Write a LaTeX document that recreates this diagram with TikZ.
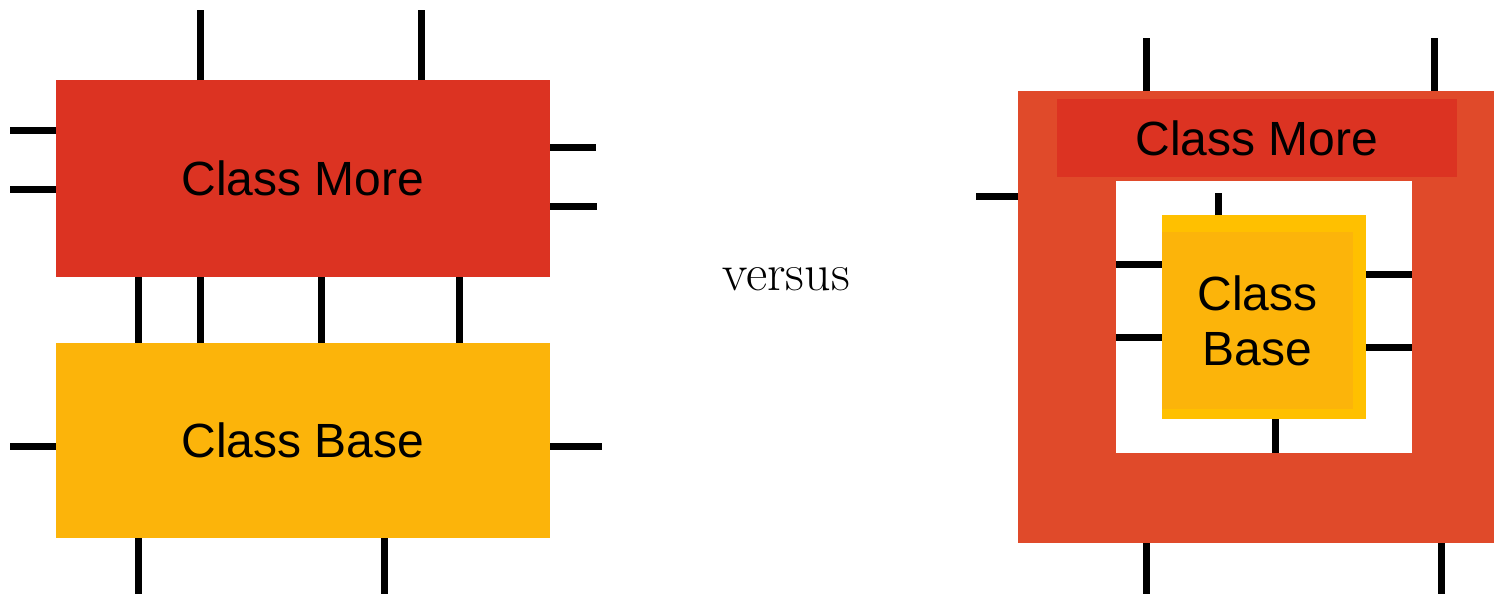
\documentclass[tikz,border=0pt]{standalone}
\usepackage{fontspec}
\newfontfamily\arial{Liberation Sans}
\definecolor{cmred}{HTML}{DC3322}
\definecolor{cmorange}{HTML}{E04A2A}
\definecolor{cbyellow}{HTML}{FCB40A}
\definecolor{cbbright}{HTML}{FFC000}
\tikzset{
  box/.style={rectangle, draw=none, inner sep=0pt, outer sep=0pt, align=center,
    font=\arial\fontsize{24}{27.5}\selectfont},
  stub/.style={line width=3.5pt, black},
}
\begin{document}
\begin{tikzpicture}[x=0.5pt, y=-0.5pt]
\useasboundingbox (0,0) rectangle (1494,594);
% ---------- left ----------
\node[box, fill=cmred, minimum width=247pt, minimum height=98.5pt] (lmore) at (303,178.5) {Class More};
\node[box, fill=cbyellow, minimum width=247pt, minimum height=97.5pt] (lbase) at (303,440.5) {Class Base};
\draw[stub] (lmore.north -| 200,0) -- ++(0,-70);
\draw[stub] (lmore.north -| 421,0) -- ++(0,-70);
\draw[stub] (lmore.west |- 0,130) -- ++(-46,0);
\draw[stub] (lmore.west |- 0,189) -- ++(-46,0);
\draw[stub] (lmore.east |- 0,147) -- ++(46,0);
\draw[stub] (lmore.east |- 0,206) -- ++(47,0);
\foreach \x in {138,200,321,459}
  \draw[stub] (lmore.south -| \x,0) -- (lbase.north -| \x,0);
\draw[stub] (lbase.west |- 0,446) -- ++(-46,0);
\draw[stub] (lbase.east |- 0,446) -- ++(52,0);
\draw[stub] (lbase.south -| 138,0) -- ++(0,56);
\draw[stub] (lbase.south -| 384,0) -- ++(0,56);
% ---------- middle ----------
\node[font=\fontsize{26}{30}\selectfont, inner sep=0pt] (vs) at (786,279) {versus};
% ---------- right ----------
\node[box, fill=cmorange, minimum width=238pt, minimum height=226pt] (outer) at (1256,317) {};
\node[box, fill=cmred, minimum width=200pt, minimum height=39pt] (rmore) at (1257,138) {Class More};
\node[box, fill=white, minimum width=148pt, minimum height=136pt] (hole) at (1264,317) {};
\node[box, fill=cbbright, minimum width=102pt, minimum height=102pt] (ybase) at (1264,317) {};
\node[box, fill=cbyellow, minimum width=95.5pt, minimum height=88.5pt] (ybasein) at (1257.5,320.5) {Class\\Base};
\draw[stub] (outer.north -| 1146,0) -- ++(0,-53);
\draw[stub] (outer.north -| 1434,0) -- ++(0,-53);
\draw[stub] (outer.west |- 0,196) -- ++(-42,0);
\draw[stub] (outer.south -| 1146,0) -- ++(0,51);
\draw[stub] (outer.south -| 1441,0) -- ++(0,51);
\draw[stub] (ybase.north -| 1218,0) -- ++(0,-22);
\draw[stub] (ybase.south -| 1275,0) -- (hole.south -| 1275,0);
\draw[stub] (hole.west |- 0,264) -- (ybase.west |- 0,264);
\draw[stub] (hole.west |- 0,337) -- (ybase.west |- 0,337);
\draw[stub] (ybase.east |- 0,274) -- (hole.east |- 0,274);
\draw[stub] (ybase.east |- 0,347) -- (hole.east |- 0,347);
\end{tikzpicture}
\end{document}
